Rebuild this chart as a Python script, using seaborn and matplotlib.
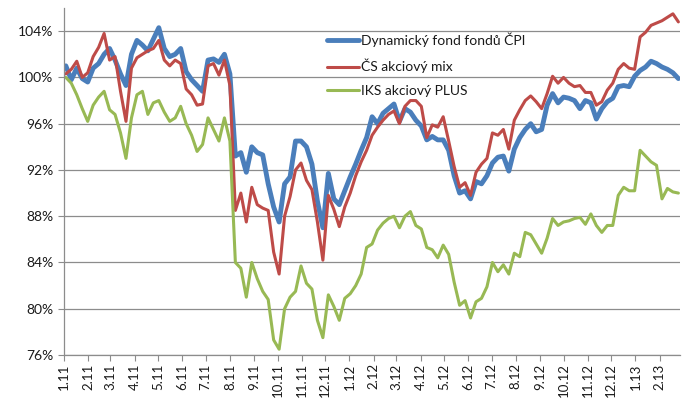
import numpy as np
import pandas as pd
import matplotlib
matplotlib.use("Agg")
import matplotlib.pyplot as plt
import matplotlib.dates as mdates
from matplotlib.ticker import FuncFormatter
import seaborn as sns

# ---- data (weekly readings, % of initial value) ----
start_date = "2011-01-03"
series_names = ["Dynamický fond fondů ČPI", "ČS akciový mix", "IKS akciový PLUS"]

dynamicky = [
    101.0, 99.8, 100.8, 99.9, 99.6, 100.8, 101.2, 102.0, 102.5, 101.5,
    100.3, 99.3, 102.0, 103.2, 102.8, 102.3, 103.3, 104.3, 102.5, 101.8,
    102.0, 102.5, 100.5, 99.8, 99.3, 98.8, 101.5, 101.6, 101.3, 102.0,
    100.3, 93.2, 93.5, 91.8, 94.0, 93.5, 93.3, 90.8, 88.8, 87.5,
    90.8, 91.4, 94.5, 94.5, 94.0, 92.5, 89.3, 87.0, 91.7, 89.5,
    89.0, 90.2, 91.4, 92.5, 93.7, 94.8, 96.6, 96.0, 96.9, 97.3,
    97.7, 96.2, 97.3, 97.0, 96.3, 95.8, 94.6, 94.9, 94.6, 94.6,
    93.7, 91.5, 90.0, 90.2, 89.5, 91.0, 90.8, 91.5, 92.6, 93.1,
    93.2, 91.9, 93.8, 94.8, 95.5, 96.0, 95.3, 95.5, 97.6, 98.6,
    97.8, 98.3, 98.2, 98.0, 97.3, 98.0, 97.8, 96.4, 97.3, 97.9,
    98.2, 99.2, 99.3, 99.2, 100.1, 100.6, 100.9, 101.4, 101.2, 100.9,
    100.7, 100.4, 99.9,
]
cs_mix = [
    100.3, 100.7, 101.4, 100.0, 100.4, 101.8, 102.6, 103.8, 101.5, 101.8,
    98.8, 96.2, 100.8, 101.7, 102.0, 102.3, 102.5, 103.2, 101.5, 101.0,
    101.5, 101.2, 99.0, 98.5, 97.6, 97.7, 101.0, 101.2, 100.2, 101.5,
    99.3, 88.5, 90.0, 87.5, 90.5, 89.0, 88.7, 88.5, 84.9, 83.0,
    88.0, 89.7, 92.0, 92.6, 91.1, 90.3, 87.5, 84.2, 89.8, 88.6,
    87.1, 88.8, 90.0, 91.5, 92.7, 93.7, 95.0, 95.7, 96.3, 96.8,
    97.1, 96.0, 97.5, 98.0, 98.0, 97.5, 94.8, 95.9, 95.7, 96.6,
    94.5, 92.3, 90.5, 90.9, 89.8, 91.8, 92.5, 93.0, 95.2, 95.0,
    95.5, 93.8, 96.3, 97.2, 98.0, 98.4, 97.9, 97.3, 98.6, 100.1,
    99.5, 100.0, 99.5, 99.2, 99.3, 98.7, 98.7, 97.6, 97.9, 98.9,
    99.5, 100.7, 101.2, 100.8, 100.7, 103.5, 103.9, 104.5, 104.7, 104.9,
    105.2, 105.5, 104.8,
]
iks_plus = [
    100.0, 99.5, 98.5, 97.3, 96.2, 97.6, 98.3, 98.8, 97.2, 96.8,
    95.2, 93.0, 96.5, 98.5, 98.8, 96.8, 97.8, 98.0, 97.0, 96.2,
    96.5, 97.5, 96.0, 95.0, 93.6, 94.2, 96.5, 95.5, 94.5, 96.5,
    94.5, 84.0, 83.5, 81.0, 84.0, 82.6, 81.5, 80.8, 77.3, 76.5,
    80.0, 81.0, 81.5, 83.7, 82.2, 81.7, 79.0, 77.5, 81.2, 80.2,
    79.0, 80.9, 81.3, 82.0, 83.0, 85.3, 85.6, 86.8, 87.4, 87.8,
    88.0, 87.0, 88.0, 88.4, 87.2, 86.9, 85.3, 85.1, 84.4, 85.5,
    84.7, 82.3, 80.3, 80.7, 79.2, 80.6, 80.9, 81.9, 84.0, 83.2,
    83.8, 83.0, 84.8, 84.5, 86.6, 86.4, 85.6, 84.8, 86.1, 87.8,
    87.2, 87.5, 87.6, 87.8, 87.9, 87.3, 88.2, 87.2, 86.6, 87.2,
    87.2, 89.8, 90.5, 90.2, 90.2, 93.7, 93.2, 92.7, 92.4, 89.5,
    90.4, 90.1, 90.0,
]
y_ticks = [76, 80, 84, 88, 92, 96, 100, 104]

dates = pd.date_range(start_date, periods=len(dynamicky), freq="7D")

colors = ["#4A7EBB", "#BE4B48", "#98B954"]
widths = [3.5, 2.2, 2.2]

sns.set_theme(style="white")
plt.rcParams["font.family"] = ["Lato", "DejaVu Sans"]

fig = plt.figure(figsize=(6.91, 4.01), dpi=100)
ax = fig.add_axes([0.093, 0.1147, 0.891, 0.8653])

for name, vals, c, lw in zip(series_names, [dynamicky, cs_mix, iks_plus], colors, widths):
    sns.lineplot(x=dates, y=vals, ax=ax, color=c, linewidth=lw, label=name)

ax.set_ylim(76, 106)
ax.set_xlim(pd.Timestamp("2011-01-01"), pd.Timestamp("2013-02-27"))
ax.set_yticks(y_ticks)
ax.yaxis.set_major_formatter(FuncFormatter(lambda v, p: f"{v:.0f}%"))
ax.xaxis.set_major_locator(mdates.MonthLocator())
ax.xaxis.set_major_formatter(mdates.DateFormatter("%-m.%y"))
ax.set_xlabel("")
ax.set_ylabel("")

ax.grid(axis="y", color="#8C8C8C", linewidth=0.9)
ax.grid(axis="x", visible=False)
ax.set_axisbelow(True)
for s in ["top", "right"]:
    ax.spines[s].set_visible(False)
for s in ["left", "bottom"]:
    ax.spines[s].set_color("#8C8C8C")
    ax.spines[s].set_linewidth(0.9)

ax.tick_params(axis="x", which="major", direction="out", length=4, width=0.8,
               color="#8C8C8C", labelsize=9.5, labelrotation=90, pad=2,
               bottom=True)
ax.tick_params(axis="y", which="major", direction="out", length=4, width=0.8,
               color="#8C8C8C", labelsize=10, pad=4, left=True)
for lab in ax.get_xticklabels():
    lab.set_color("#1a1a1a")
for lab in ax.get_yticklabels():
    lab.set_color("#1a1a1a")

leg = ax.legend(loc="upper left", bbox_to_anchor=(0.418, 0.945), frameon=False,
                fontsize=10, handlelength=2.3, handletextpad=0.1,
                labelspacing=0.85, borderaxespad=0)
for t in leg.get_texts():
    t.set_color("#1a1a1a")

fig.savefig("out.png", dpi=100)
